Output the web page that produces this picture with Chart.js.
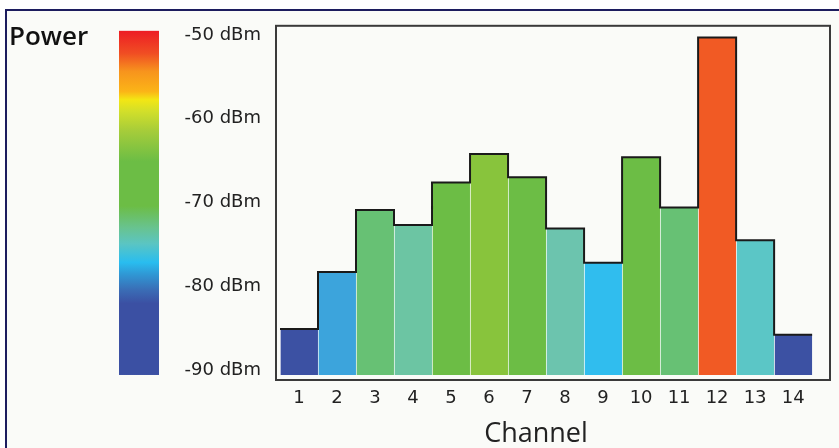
<!DOCTYPE html>
<html>
<head>
<meta charset="utf-8">
<script src="https://cdn.jsdelivr.net/npm/chart.js@4"></script>
<style>
  html, body { margin: 0; padding: 0; background: #ffffff; }
  #wrap { width: 839px; height: 448px; }
</style>
</head>
<body>
<div id="wrap"><canvas id="power-chart" width="839" height="448"></canvas></div>
<script>
// channel data
var channels = [1, 2, 3, 4, 5, 6, 7, 8, 9, 10, 11, 12, 13, 14];
var powerDbm = [-85.1, -78.3, -70.9, -72.7, -67.6, -64.2, -67.0, -73.1, -77.2, -64.6, -70.6, -50.3, -74.5, -85.8];
var barColors = ['#3c51a3', '#3ca4dc', '#67c174', '#6cc5a3', '#6cbd45', '#88c43c', '#6cbd45',
                 '#6cc4ae', '#30bdee', '#6cbd45', '#67c174', '#f15a24', '#5bc6c6', '#3c51a3'];
var yTicks = [-90, -80, -70, -60, -50];
var barBase = -90.6;

// colour scale legend stops (fraction from top, colour)
var scaleStops = [
  [0, '#ed1c24'], [0.066, '#f04e23'], [0.118, '#f7941d'], [0.176, '#fbb417'],
  [0.2, '#f3e614'], [0.234, '#d2df2a'], [0.292, '#a5cc3a'], [0.379, '#6cbd45'],
  [0.509, '#6cbd45'], [0.572, '#68c38f'], [0.618, '#5bc5c2'], [0.673, '#29bdef'],
  [0.705, '#2f9ad6'], [0.754, '#3a6cb5'], [0.792, '#3b50a3'], [1, '#3b50a3']
];

var barData = channels.map(function(c, i) { return { x: c, y: [barBase, powerDbm[i]] }; });

// outline steps along the bar tops
var stepData = channels.map(function(c, i) { return { x: c - 0.5, y: powerDbm[i] }; });
stepData.push({ x: channels[channels.length - 1] + 0.5, y: powerDbm[powerDbm.length - 1] });

var framePlugin = {
  id: 'frame',
  beforeDraw: function(chart) {
    var ctx = chart.ctx;
    ctx.save();
    ctx.fillStyle = '#ffffff';
    ctx.fillRect(0, 0, chart.width, chart.height);
    ctx.fillStyle = '#fafbf8';
    ctx.fillRect(5, 9, chart.width - 5, chart.height - 9);
    ctx.fillStyle = '#1c1c5e';
    ctx.fillRect(5, 9, chart.width - 5, 2);
    ctx.fillRect(5, 9, 2, chart.height - 9);

    // colour scale
    var ys = chart.scales.y;
    var top = ys.getPixelForValue(-49.5);
    var bottom = ys.getPixelForValue(barBase);
    var grad = ctx.createLinearGradient(0, top, 0, bottom);
    scaleStops.forEach(function(s) { grad.addColorStop(s[0], s[1]); });
    ctx.fillStyle = grad;
    ctx.fillRect(119, top, 40, bottom - top);

    ctx.fillStyle = '#111111';
    ctx.font = '600 26px "Open Sans"';
    ctx.textBaseline = 'middle';
    ctx.textAlign = 'left';
    ctx.fillText('Power', 9, 38);
    ctx.restore();
  },
  afterDraw: function(chart) {
    var ctx = chart.ctx;
    var a = chart.chartArea;
    ctx.save();
    ctx.strokeStyle = '#3a3a3a';
    ctx.lineWidth = 2;
    ctx.strokeRect(a.left, a.top, a.right - a.left, a.bottom - a.top);
    ctx.fillStyle = '#222222';
    ctx.font = '27px "Open Sans"';
    ctx.textAlign = 'center';
    ctx.textBaseline = 'middle';
    ctx.fillText('Channel', 536, 434);
    ctx.restore();
  }
};

var config = {
  data: {
    datasets: [{
      type: 'line',
      data: stepData,
      stepped: 'before',
      borderColor: '#1a1a1a',
      borderWidth: 2,
      pointRadius: 0,
      fill: false,
      order: 0
    }, {
      type: 'bar',
      data: barData,
      backgroundColor: barColors,
      borderColor: 'rgba(255,255,255,0.35)',
      borderWidth: { left: 1, right: 0, top: 0, bottom: 0 },
      borderSkipped: false,
      barPercentage: 1,
      categoryPercentage: 1,
      order: 1
    }]
  },
  options: {
    responsive: false,
    animation: false,
    layout: { padding: { top: 24, right: 9, left: 0, bottom: 0 } },
    plugins: { legend: { display: false }, tooltip: { enabled: false } },
    scales: {
      x: {
        type: 'linear',
        offset: false,
        min: 0.395,
        max: 14.97,
        grid: { display: false, drawTicks: false },
        border: { display: false },
        afterBuildTicks: function(scale) { scale.ticks = channels.map(function(c) { return { value: c }; }); },
        afterFit: function(scale) { scale.height = 68; },
        ticks: {
          padding: 8,
          color: '#222222',
          font: { family: 'DejaVu Sans', size: 18 },
          autoSkip: false,
          maxRotation: 0
        }
      },
      y: {
        min: -91.2,
        max: -48.9,
        grid: { display: false, drawTicks: false },
        border: { display: false },
        afterBuildTicks: function(scale) { scale.ticks = yTicks.map(function(v) { return { value: v }; }); },
        afterFit: function(scale) { scale.width = 276; },
        ticks: {
          padding: 15,
          color: '#222222',
          font: { family: 'DejaVu Sans', size: 18 },
          callback: function(v) { return v + ' dBm'; }
        }
      }
    }
  },
  plugins: [framePlugin]
};

var ctx = document.getElementById('power-chart').getContext('2d');
window.powerChart = new Chart(ctx, config);
</script>
</body>
</html>
